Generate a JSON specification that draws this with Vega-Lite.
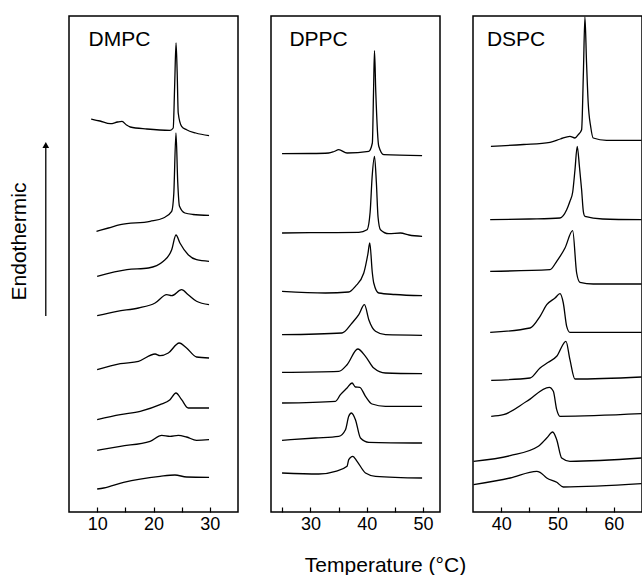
{
  "$schema": "https://vega.github.io/schema/vega-lite/v6.json",
  "padding": {"left": 7, "top": 13, "right": 0, "bottom": 0},
  "spacing": 33,
  "bounds": "flush",
  "datasets": {
    "dmpc": [
      {"c":1,"t":8.94,"v":393},{"c":1,"t":10.5,"v":391},{"c":1,"t":12.35,"v":388.3},{"c":1,"t":13.6,"v":390},{"c":1,"t":14.41,"v":390.7},{"c":1,"t":15.2,"v":387},{"c":1,"t":15.87,"v":385},{"c":1,"t":18.82,"v":383},{"c":1,"t":22.94,"v":381.7},{"c":1,"t":23.5,"v":384},{"c":1,"t":23.75,"v":425},{"c":1,"t":24.0,"v":469},{"c":1,"t":24.2,"v":440},{"c":1,"t":24.39,"v":399},{"c":1,"t":24.99,"v":385.7},{"c":1,"t":25.87,"v":382.3},{"c":1,"t":27.5,"v":379},{"c":1,"t":29.86,"v":376.3},
      {"c":2,"t":9.88,"v":280.7},{"c":2,"t":12,"v":284},{"c":2,"t":14.11,"v":287.3},{"c":2,"t":19.4,"v":290.7},{"c":2,"t":21.75,"v":294},{"c":2,"t":23.23,"v":300.7},{"c":2,"t":23.6,"v":318},{"c":2,"t":23.99,"v":379},{"c":2,"t":24.3,"v":330},{"c":2,"t":24.6,"v":306},{"c":2,"t":25.57,"v":299},{"c":2,"t":27,"v":297.5},{"c":2,"t":29.86,"v":296.7},
      {"c":3,"t":10,"v":235.7},{"c":3,"t":15.29,"v":242.3},{"c":3,"t":19.1,"v":244},{"c":3,"t":21.75,"v":250.7},{"c":3,"t":23.23,"v":262.3},{"c":3,"t":23.99,"v":277},{"c":3,"t":24.69,"v":269},{"c":3,"t":26.16,"v":257.3},{"c":3,"t":27.64,"v":252.3},{"c":3,"t":29.86,"v":250.7},
      {"c":4,"t":10,"v":196.3},{"c":4,"t":13.53,"v":200.7},{"c":4,"t":17.34,"v":204},{"c":4,"t":20.28,"v":209},{"c":4,"t":22.35,"v":217.3},{"c":4,"t":23.23,"v":216.3},{"c":4,"t":24.99,"v":222.3},{"c":4,"t":26.16,"v":217.3},{"c":4,"t":27.64,"v":210.7},{"c":4,"t":29.86,"v":207.3},
      {"c":5,"t":10,"v":142.3},{"c":5,"t":14.11,"v":148.3},{"c":5,"t":17.34,"v":150.7},{"c":5,"t":20.28,"v":158},{"c":5,"t":21.16,"v":156.3},{"c":5,"t":22.63,"v":159},{"c":5,"t":24.57,"v":169},{"c":5,"t":25.87,"v":164},{"c":5,"t":27.64,"v":155},{"c":5,"t":29.86,"v":154},
      {"c":6,"t":10,"v":92.3},{"c":6,"t":14.11,"v":97.3},{"c":6,"t":17.64,"v":100.7},{"c":6,"t":21.16,"v":107.3},{"c":6,"t":22.93,"v":112.3},{"c":6,"t":23.99,"v":119},{"c":6,"t":24.99,"v":112.3},{"c":6,"t":26.16,"v":104},{"c":6,"t":29.86,"v":104},
      {"c":7,"t":10,"v":61.7},{"c":7,"t":14.11,"v":65.7},{"c":7,"t":19.4,"v":70.7},{"c":7,"t":21.46,"v":76.7},{"c":7,"t":22.93,"v":75.7},{"c":7,"t":24.39,"v":76.7},{"c":7,"t":25.87,"v":75},{"c":7,"t":27.64,"v":71.7},{"c":7,"t":29.86,"v":72.3},
      {"c":8,"t":10,"v":23},{"c":8,"t":11.16,"v":24},{"c":8,"t":14.69,"v":29.7},{"c":8,"t":21.16,"v":35.7},{"c":8,"t":23.81,"v":37},{"c":8,"t":25.87,"v":35},{"c":8,"t":29.86,"v":34.7}
    ],
    "dppc": [
      {"c":1,"t":24.96,"v":358.3},{"c":1,"t":30,"v":358.5},{"c":1,"t":33.25,"v":359},{"c":1,"t":34.2,"v":360.5},{"c":1,"t":35.03,"v":362.3},{"c":1,"t":36.5,"v":359},{"c":1,"t":40.36,"v":360.7},{"c":1,"t":40.99,"v":369},{"c":1,"t":41.2,"v":420},{"c":1,"t":41.37,"v":461.3},{"c":1,"t":41.6,"v":420},{"c":1,"t":42.13,"v":365.7},{"c":1,"t":43.02,"v":357.3},{"c":1,"t":49.82,"v":356.3},
      {"c":2,"t":24.96,"v":279},{"c":2,"t":30,"v":279.3},{"c":2,"t":38.58,"v":279.7},{"c":2,"t":40.05,"v":282.3},{"c":2,"t":40.6,"v":300},{"c":2,"t":40.95,"v":335},{"c":2,"t":41.37,"v":355.7},{"c":2,"t":41.7,"v":330},{"c":2,"t":42.0,"v":295},{"c":2,"t":42.43,"v":282.3},{"c":2,"t":43.91,"v":278.3},{"c":2,"t":45.99,"v":279},{"c":2,"t":47.5,"v":277},{"c":2,"t":49.82,"v":275.7},
      {"c":3,"t":24.96,"v":220.7},{"c":3,"t":32.66,"v":219},{"c":3,"t":36.8,"v":220},{"c":3,"t":37.99,"v":225.7},{"c":3,"t":39.47,"v":239},{"c":3,"t":40.2,"v":258},{"c":3,"t":40.53,"v":269},{"c":3,"t":40.99,"v":239},{"c":3,"t":41.24,"v":229},{"c":3,"t":42.13,"v":219},{"c":3,"t":45,"v":217.5},{"c":3,"t":49.82,"v":216.3},
      {"c":4,"t":24.96,"v":177.3},{"c":4,"t":35.61,"v":179},{"c":4,"t":37.39,"v":189},{"c":4,"t":38.58,"v":197.3},{"c":4,"t":39.59,"v":207.3},{"c":4,"t":40.36,"v":192.3},{"c":4,"t":41.55,"v":180.7},{"c":4,"t":43.32,"v":177.3},{"c":4,"t":49.82,"v":176.7},
      {"c":5,"t":24.96,"v":139.7},{"c":5,"t":35.03,"v":140.7},{"c":5,"t":36.5,"v":147.3},{"c":5,"t":38.4,"v":163},{"c":5,"t":39.77,"v":155.7},{"c":5,"t":41.24,"v":144},{"c":5,"t":43.32,"v":139},{"c":5,"t":49.82,"v":138.3},
      {"c":6,"t":24.96,"v":109},{"c":6,"t":34.44,"v":110.7},{"c":6,"t":35.33,"v":117.3},{"c":6,"t":36.5,"v":124},{"c":6,"t":37.39,"v":129},{"c":6,"t":37.99,"v":125},{"c":6,"t":38.76,"v":124.7},{"c":6,"t":39.77,"v":115.7},{"c":6,"t":40.94,"v":108},{"c":6,"t":43.32,"v":105.7},{"c":6,"t":49.82,"v":105.7},
      {"c":7,"t":24.96,"v":71.7},{"c":7,"t":30.89,"v":74},{"c":7,"t":35.03,"v":75.7},{"c":7,"t":36.22,"v":82.3},{"c":7,"t":36.8,"v":95.7},{"c":7,"t":37.28,"v":99},{"c":7,"t":37.99,"v":92.3},{"c":7,"t":38.88,"v":74},{"c":7,"t":40.36,"v":69.7},{"c":7,"t":49.82,"v":69},
      {"c":8,"t":24.96,"v":39},{"c":8,"t":31.47,"v":38},{"c":8,"t":34.44,"v":40.7},{"c":8,"t":36.5,"v":45.7},{"c":8,"t":36.8,"v":52.3},{"c":8,"t":37.51,"v":55.7},{"c":8,"t":38.28,"v":50.7},{"c":8,"t":39.77,"v":39},{"c":8,"t":41.55,"v":35.7},{"c":8,"t":49.82,"v":34}
    ],
    "dspc": [
      {"c":1,"t":38.18,"v":365.7},{"c":1,"t":44,"v":367.5},{"c":1,"t":48.67,"v":369.7},{"c":1,"t":50.5,"v":373},{"c":1,"t":52.21,"v":375.7},{"c":1,"t":53.1,"v":374},{"c":1,"t":53.68,"v":377.3},{"c":1,"t":54.28,"v":382.3},{"c":1,"t":54.6,"v":440},{"c":1,"t":54.87,"v":495},{"c":1,"t":55.15,"v":450},{"c":1,"t":55.45,"v":409},{"c":1,"t":55.9,"v":385},{"c":1,"t":56.34,"v":374},{"c":1,"t":58.71,"v":371.7},{"c":1,"t":64.9,"v":371.7},
      {"c":2,"t":38.05,"v":292.3},{"c":2,"t":45,"v":293},{"c":2,"t":50.44,"v":294},{"c":2,"t":51.63,"v":302.3},{"c":2,"t":52.21,"v":310.7},{"c":2,"t":52.7,"v":320},{"c":2,"t":53.1,"v":342},{"c":2,"t":53.5,"v":365.7},{"c":2,"t":53.9,"v":345},{"c":2,"t":54.28,"v":322.3},{"c":2,"t":54.6,"v":300},{"c":2,"t":54.87,"v":295.7},{"c":2,"t":58,"v":293},{"c":2,"t":64.9,"v":292.3},
      {"c":3,"t":38.05,"v":240.7},{"c":3,"t":48.67,"v":242.3},{"c":3,"t":49.86,"v":250.7},{"c":3,"t":51.33,"v":264},{"c":3,"t":52.69,"v":281.3},{"c":3,"t":53.4,"v":239},{"c":3,"t":53.98,"v":229.7},{"c":3,"t":56.34,"v":228},{"c":3,"t":64.9,"v":228},
      {"c":4,"t":38.05,"v":179.7},{"c":4,"t":45.13,"v":184},{"c":4,"t":46.9,"v":195.7},{"c":4,"t":48.09,"v":207.3},{"c":4,"t":49.56,"v":214},{"c":4,"t":50.44,"v":218.3},{"c":4,"t":51.03,"v":209},{"c":4,"t":51.63,"v":185.7},{"c":4,"t":52.21,"v":179.7},{"c":4,"t":64.9,"v":179.7},
      {"c":5,"t":38.23,"v":131.7},{"c":5,"t":45.13,"v":134},{"c":5,"t":46.9,"v":144},{"c":5,"t":48.37,"v":149.7},{"c":5,"t":49.86,"v":155.7},{"c":5,"t":51.5,"v":170.7},{"c":5,"t":52.21,"v":152.3},{"c":5,"t":53.1,"v":133},{"c":5,"t":64.9,"v":135},
      {"c":6,"t":38.23,"v":95.7},{"c":6,"t":40.41,"v":97.3},{"c":6,"t":44.55,"v":110.7},{"c":6,"t":48.55,"v":124.7},{"c":6,"t":49.26,"v":120.7},{"c":6,"t":49.86,"v":102.3},{"c":6,"t":50.44,"v":95.7},{"c":6,"t":64.9,"v":98.3},
      {"c":7,"t":35.1,"v":50.7},{"c":7,"t":41.59,"v":56.3},{"c":7,"t":46.6,"v":65.7},{"c":7,"t":48.09,"v":74},{"c":7,"t":49.15,"v":80},{"c":7,"t":49.86,"v":72.3},{"c":7,"t":50.74,"v":54},{"c":7,"t":52.21,"v":50.7},{"c":7,"t":64.9,"v":54},
      {"c":8,"t":35.1,"v":27.3},{"c":8,"t":41.59,"v":34},{"c":8,"t":46.32,"v":40.7},{"c":8,"t":46.9,"v":39.7},{"c":8,"t":48.09,"v":34},{"c":8,"t":49.86,"v":29.7},{"c":8,"t":51.03,"v":25},{"c":8,"t":64.9,"v":28.3}
    ]
  },
  "hconcat": [
    {
      "width": 169, "height": 496,
      "layer": [
        {
          "data": {"name": "dmpc"},
          "mark": {"type": "line", "color": "black", "strokeWidth": 1.3, "interpolate": "monotone"},
          "encoding": {
            "x": {"field": "t", "type": "quantitative", "scale": {"domain": [5, 35], "nice": false, "zero": false},
                  "axis": {"title": null, "tickCount": 20, "labelOverlap": false, "labelFlush": false, "values": [10, 15, 20, 25, 30], "labelExpr": "datum.value % 10 === 0 ? datum.label : ''"}},
            "y": {"field": "v", "type": "quantitative", "scale": {"domain": [0, 496], "nice": false},
                  "axis": {"title": "Endothermic", "labels": false, "ticks": false, "domain": false, "grid": false, "titleFontSize": 21, "titleFontWeight": "normal", "titlePadding": 40, "titleColor": "black", "titleFont": "Liberation Sans", "titleY": 225}},
            "detail": {"field": "c"}
          }
        },
        {
          "data": {"values": [{}]},
          "mark": {"type": "text", "text": "DMPC", "align": "left", "baseline": "alphabetic", "fontSize": 21, "font": "Liberation Sans", "color": "black"},
          "encoding": {"x": {"datum": 8.47}, "y": {"datum": 466}}
        },
        {
          "data": {"values": [{}]},
          "mark": {"type": "rule", "clip": false, "color": "black", "strokeWidth": 1.3},
          "encoding": {"x": {"datum": 0.88}, "y": {"datum": 196}, "y2": {"datum": 364}}
        },
        {
          "data": {"values": [{}]},
          "mark": {"type": "point", "shape": "triangle-up", "filled": true, "clip": false, "color": "black", "size": 45, "opacity": 1},
          "encoding": {"x": {"datum": 0.88}, "y": {"datum": 367}}
        }
      ]
    },
    {
      "width": 169, "height": 496,
      "layer": [
        {
          "data": {"name": "dppc"},
          "mark": {"type": "line", "color": "black", "strokeWidth": 1.3, "interpolate": "monotone"},
          "encoding": {
            "x": {"field": "t", "type": "quantitative", "scale": {"domain": [23, 53], "nice": false, "zero": false},
                  "axis": {"title": "Temperature (°C)", "titleFontSize": 21, "titleFontWeight": "normal", "titleColor": "black", "titleFont": "Liberation Sans", "titleX": 114, "titleY": 59, "titleAlign": "center", "titleBaseline": "alphabetic", "tickCount": 20, "labelOverlap": false, "labelFlush": false, "values": [25, 30, 35, 40, 45, 50], "labelExpr": "datum.value % 10 === 0 ? datum.label : ''"}},
            "y": {"field": "v", "type": "quantitative", "scale": {"domain": [0, 496], "nice": false}, "axis": null},
            "detail": {"field": "c"}
          }
        },
        {
          "data": {"values": [{}]},
          "mark": {"type": "text", "text": "DPPC", "align": "left", "baseline": "alphabetic", "fontSize": 21, "font": "Liberation Sans", "color": "black"},
          "encoding": {"x": {"datum": 26.27}, "y": {"datum": 466}}
        }
      ]
    },
    {
      "width": 169, "height": 496,
      "layer": [
        {
          "data": {"name": "dspc"},
          "mark": {"type": "line", "color": "black", "strokeWidth": 1.3, "interpolate": "monotone"},
          "encoding": {
            "x": {"field": "t", "type": "quantitative", "scale": {"domain": [35, 65], "nice": false, "zero": false},
                  "axis": {"title": null, "tickCount": 20, "labelOverlap": false, "labelFlush": false, "values": [40, 45, 50, 55, 60], "labelExpr": "datum.value % 10 === 0 ? datum.label : ''"}},
            "y": {"field": "v", "type": "quantitative", "scale": {"domain": [0, 496], "nice": false}, "axis": null},
            "detail": {"field": "c"}
          }
        },
        {
          "data": {"values": [{}]},
          "mark": {"type": "text", "text": "DSPC", "align": "left", "baseline": "alphabetic", "fontSize": 21, "font": "Liberation Sans", "color": "black"},
          "encoding": {"x": {"datum": 37.47}, "y": {"datum": 466}}
        }
      ]
    }
  ],
  "config": {
    "font": "Liberation Sans",
    "view": {"stroke": "black", "strokeWidth": 1.5},
    "axis": {"grid": false, "domain": false, "tickColor": "black", "tickSize": -5, "tickWidth": 1.2, "labelFontSize": 18, "labelColor": "black", "labelFont": "Liberation Sans", "labelPadding": 8, "labelOverlap": false}
  }
}
